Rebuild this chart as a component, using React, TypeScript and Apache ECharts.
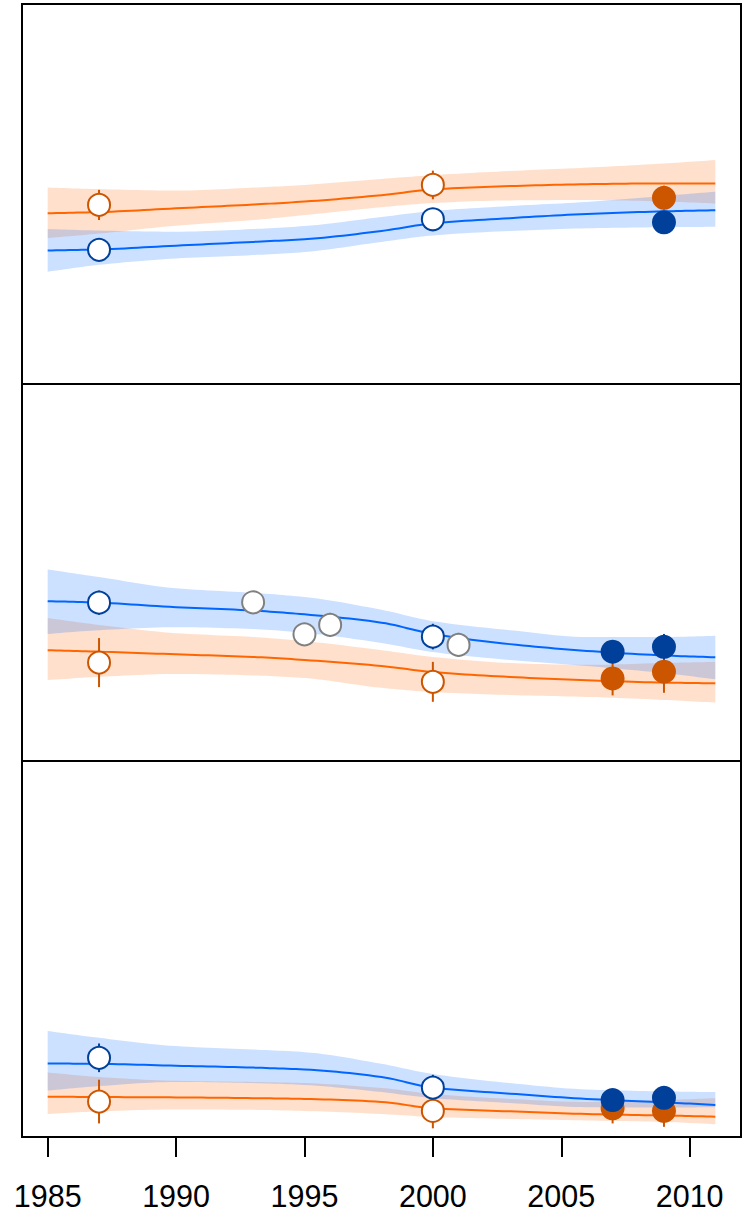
import React, { useEffect, useRef } from "react";
import * as echarts from "echarts";

// Years at which the fitted curves and their bands are read
const curveYears = [1985, 1987, 1990, 1993, 1995, 1998, 2000, 2003, 2006, 2009, 2011];
const tickYears = [1985, 1990, 1995, 2000, 2005, 2010];

// ---------- Panel 1 ----------
const p1OrangeFit = [45.3, 45.6, 46.6, 47.6, 48.4, 50.1, 51.6, 52.5, 53.0, 53.2, 53.2];
const p1OrangeHi = [52.1, 51.7, 51.3, 52.1, 52.8, 54.4, 55.4, 56.5, 57.4, 58.5, 59.4];
const p1OrangeLo = [38.7, 39.9, 42.0, 43.5, 44.8, 46.9, 48.0, 48.7, 48.8, 48.4, 47.9];
const p1BlueFit = [35.4, 35.7, 36.7, 37.7, 38.4, 40.6, 42.6, 44.0, 45.1, 45.8, 46.1];
const p1BlueHi = [41.1, 40.7, 40.4, 41.1, 41.9, 44.3, 45.9, 47.2, 48.3, 49.9, 51.0];
const p1BlueLo = [29.8, 31.6, 33.3, 34.2, 35.0, 37.7, 39.4, 40.6, 41.3, 41.6, 41.7];
// [year, value, error]
const p1OrangeOpen = [[1987, 47.5, 4.0], [2000, 52.8, 3.8]];
const p1OrangeFilled = [[2009, 49.4, 3.2]];
const p1BlueOpen = [[1987, 35.6, 0.8], [2000, 43.7, 0.8]];
const p1BlueFilled = [[2009, 42.9, 1.0]];
const p1GreyOpen: number[][] = [];

// ---------- Panel 2 ----------
const p2OrangeFit = [29.4, 29.0, 28.3, 27.6, 26.8, 25.2, 23.6, 22.3, 21.4, 20.8, 20.6];
const p2OrangeHi = [37.9, 36.1, 33.9, 32.9, 31.8, 29.4, 27.6, 26.0, 25.5, 26.0, 26.3];
const p2OrangeLo = [21.5, 22.3, 23.1, 22.7, 22.0, 19.4, 18.3, 17.5, 17.0, 16.2, 15.5];
const p2BlueFit = [42.4, 42.0, 40.8, 39.9, 38.9, 36.7, 33.7, 31.0, 29.2, 28.0, 27.5];
const p2BlueHi = [50.8, 48.8, 45.8, 44.6, 43.5, 40.1, 37.1, 34.7, 32.9, 32.9, 33.2];
const p2BlueLo = [33.7, 34.7, 35.5, 35.0, 34.0, 31.3, 28.9, 26.8, 25.2, 23.3, 21.7];
const p2OrangeOpen = [[1987, 26.1, 6.5], [2000, 21.0, 5.3]];
const p2OrangeFilled = [[2007, 21.9, 4.5], [2009, 23.7, 5.6]];
const p2BlueOpen = [[1987, 42.0, 3.2], [2000, 33.0, 3.4]];
const p2BlueFilled = [[2007, 29.0, 2.1], [2009, 30.3, 3.4]];
const p2GreyOpen = [[1993, 42.1, 0], [1995, 33.6, 0], [1996, 36.1, 3.2], [2001, 30.8, 3.2]];

// ---------- Panel 3 ----------
const p3OrangeFit = [10.7, 10.6, 10.5, 10.3, 10.1, 9.3, 7.6, 6.8, 6.1, 5.7, 5.4];
const p3OrangeHi = [17.1, 15.9, 14.9, 14.6, 14.3, 13.0, 11.4, 10.1, 9.3, 9.8, 10.3];
const p3OrangeLo = [6.1, 6.8, 7.3, 7.2, 6.9, 6.1, 5.3, 4.8, 4.4, 4.0, 3.4];
const p3BlueFit = [19.5, 19.4, 18.9, 18.4, 17.9, 15.9, 13.1, 11.5, 10.1, 9.2, 8.5];
const p3BlueHi = [28.1, 26.3, 24.1, 23.2, 22.5, 19.4, 16.7, 14.3, 12.6, 12.1, 11.9];
const p3BlueLo = [12.3, 13.5, 14.6, 14.3, 13.8, 11.9, 10.3, 9.0, 7.9, 7.8, 7.9];
const p3OrangeOpen = [[1987, 9.4, 5.8], [2000, 6.9, 4.6]];
const p3OrangeFilled = [[2007, 7.6, 4.0], [2009, 6.9, 4.2]];
const p3BlueOpen = [[1987, 21.0, 3.8], [2000, 13.1, 3.4]];
const p3BlueFilled = [[2007, 9.8, 1.6], [2009, 10.4, 1.9]];
const p3GreyOpen: number[][] = [];

const panels = [
  { top: 4, height: 380, yMax: 100.8, oFit: p1OrangeFit, oHi: p1OrangeHi, oLo: p1OrangeLo, bFit: p1BlueFit, bHi: p1BlueHi, bLo: p1BlueLo, oOpen: p1OrangeOpen, oFilled: p1OrangeFilled, bOpen: p1BlueOpen, bFilled: p1BlueFilled, gOpen: p1GreyOpen },
  { top: 384, height: 377, yMax: 100, oFit: p2OrangeFit, oHi: p2OrangeHi, oLo: p2OrangeLo, bFit: p2BlueFit, bHi: p2BlueHi, bLo: p2BlueLo, oOpen: p2OrangeOpen, oFilled: p2OrangeFilled, bOpen: p2BlueOpen, bFilled: p2BlueFilled, gOpen: p2GreyOpen },
  { top: 761, height: 376, yMax: 99.7, oFit: p3OrangeFit, oHi: p3OrangeHi, oLo: p3OrangeLo, bFit: p3BlueFit, bHi: p3BlueHi, bLo: p3BlueLo, oOpen: p3OrangeOpen, oFilled: p3OrangeFilled, bOpen: p3BlueOpen, bFilled: p3BlueFilled, gOpen: p3GreyOpen },
];

const ORANGE_LINE = "#ff6600";
const ORANGE_BAND = "rgba(255,102,0,0.2)";
const ORANGE_PT = "#cc5500";
const BLUE_LINE = "#0066ff";
const BLUE_BAND = "rgba(0,102,255,0.2)";
const BLUE_PT = "#00409a";
const GREY_PT = "#808080";

// Monotone cubic (Fritsch–Carlson) rendering of pixel points, for a smooth curve
function smoothPixels(p: number[][]): number[][] {
  const n = p.length;
  if (n < 3) return p;
  const d: number[] = [];
  const h: number[] = [];
  for (let k = 0; k < n - 1; k++) {
    h.push(p[k + 1][0] - p[k][0]);
    d.push((p[k + 1][1] - p[k][1]) / h[k]);
  }
  const m: number[] = new Array(n).fill(0);
  m[0] = d[0];
  m[n - 1] = d[n - 2];
  for (let k = 1; k < n - 1; k++) {
    if (d[k - 1] * d[k] <= 0) m[k] = 0;
    else {
      const w1 = 2 * h[k] + h[k - 1];
      const w2 = h[k] + 2 * h[k - 1];
      m[k] = (w1 + w2) / (w1 / d[k - 1] + w2 / d[k]);
    }
  }
  const out: number[][] = [];
  const steps = 12;
  for (let k = 0; k < n - 1; k++) {
    for (let s = 0; s < steps; s++) {
      const t = s / steps;
      const t2 = t * t, t3 = t2 * t;
      const h00 = 2 * t3 - 3 * t2 + 1;
      const h10 = t3 - 2 * t2 + t;
      const h01 = -2 * t3 + 3 * t2;
      const h11 = t3 - t2;
      out.push([
        p[k][0] + t * h[k],
        h00 * p[k][1] + h10 * h[k] * m[k] + h01 * p[k + 1][1] + h11 * h[k] * m[k + 1],
      ]);
    }
  }
  out.push(p[n - 1]);
  return out;
}

function bandSeries(i: number, lo: number[], hi: number[], fill: string) {
  return {
    type: "custom", xAxisIndex: i, yAxisIndex: i, silent: true, clip: false,
    encode: { x: 0, y: 1 },
    data: [[curveYears[0], lo[0]]],
    renderItem: (_params: any, api: any) => {
      const up = smoothPixels(curveYears.map((y, k) => api.coord([y, hi[k]])));
      const dn = smoothPixels(curveYears.map((y, k) => api.coord([y, lo[k]])));
      return {
        type: "polygon",
        shape: { points: up.concat(dn.reverse()) },
        style: { fill, stroke: "none" },
      };
    },
  };
}

function fitSeries(i: number, fit: number[], color: string) {
  return {
    type: "custom", xAxisIndex: i, yAxisIndex: i, silent: true, clip: false,
    encode: { x: 0, y: 1 },
    data: [[curveYears[0], fit[0]]],
    renderItem: (_params: any, api: any) => {
      const pts = smoothPixels(curveYears.map((y, k) => api.coord([y, fit[k]])));
      return {
        type: "polyline",
        shape: { points: pts },
        style: { stroke: color, lineWidth: 2, fill: "none" },
      };
    },
  };
}

function errSeries(i: number, pts: number[][], color: string) {
  return {
    type: "custom", xAxisIndex: i, yAxisIndex: i, silent: true,
    encode: { x: 0, y: [1, 2] },
    data: pts.filter((p) => p[2] > 0).map((p) => [p[0], p[1] - p[2], p[1] + p[2]]),
    renderItem: (_params: any, api: any) => {
      const a = api.coord([api.value(0), api.value(1)]);
      const b = api.coord([api.value(0), api.value(2)]);
      return {
        type: "line",
        shape: { x1: a[0], y1: a[1], x2: b[0], y2: b[1] },
        style: { stroke: color, lineWidth: 2 },
      };
    },
  };
}

function pointSeries(i: number, pts: number[][], color: string, open: boolean) {
  return {
    type: "scatter", xAxisIndex: i, yAxisIndex: i, silent: true,
    symbol: "circle",
    symbolSize: open ? 22 : 24,
    itemStyle: open
      ? { color: "#ffffff", borderColor: color, borderWidth: 2, opacity: 1 }
      : { color, borderWidth: 0, opacity: 1 },
    data: pts.map((p) => [p[0], p[1]]),
  };
}

export default function App() {
  const ref = useRef<HTMLDivElement>(null);
  useEffect(() => {
    if (!ref.current) return;
    const chart = echarts.init(ref.current, undefined, { renderer: "svg" });
    const grids = panels.map((p) => ({
      left: 22, width: 719, top: p.top, height: p.height,
      show: true, borderColor: "#000", borderWidth: 2, backgroundColor: "transparent",
      containLabel: false, outerBoundsMode: "none",
    }));
    const xAxes = panels.map((_p, i) => ({
      type: "value", gridIndex: i, min: 1984, max: 2012,
      axisLine: { show: false },
      splitLine: { show: false },
      axisTick: i === 2
        ? { show: true, inside: false, length: 20, customValues: tickYears, lineStyle: { color: "#000", width: 2 } }
        : { show: false },
      axisLabel: i === 2
        ? {
            show: true, customValues: tickYears, fontSize: 30.5, color: "#000", margin: 43,
            fontFamily: "Liberation Sans, Arial, sans-serif",
            formatter: (v: number) => String(v),
          }
        : { show: false },
    }));
    const yAxes = panels.map((p, i) => ({
      type: "value", gridIndex: i, min: 0, max: p.yMax,
      axisLine: { show: false }, axisTick: { show: false }, axisLabel: { show: false }, splitLine: { show: false },
    }));
    const series: any[] = [];
    panels.forEach((p, i) => {
      series.push(bandSeries(i, p.oLo, p.oHi, ORANGE_BAND));
      series.push(bandSeries(i, p.bLo, p.bHi, BLUE_BAND));
      series.push(fitSeries(i, p.oFit, ORANGE_LINE));
      series.push(fitSeries(i, p.bFit, BLUE_LINE));
      series.push(errSeries(i, p.gOpen, GREY_PT));
      series.push(errSeries(i, p.oOpen.concat(p.oFilled), ORANGE_PT));
      series.push(errSeries(i, p.bOpen.concat(p.bFilled), BLUE_PT));
      series.push(pointSeries(i, p.gOpen, GREY_PT, true));
      series.push(pointSeries(i, p.oOpen, ORANGE_PT, true));
      series.push(pointSeries(i, p.oFilled, ORANGE_PT, false));
      series.push(pointSeries(i, p.bOpen, BLUE_PT, true));
      series.push(pointSeries(i, p.bFilled, BLUE_PT, false));
    });
    chart.setOption({
      animation: false,
      backgroundColor: "#ffffff",
      grid: grids,
      xAxis: xAxes,
      yAxis: yAxes,
      series,
    });
    return () => chart.dispose();
  }, []);
  return (
    <div
      ref={ref}
      style={{ position: "absolute", left: 0, top: 0, width: 755, height: 1216 }}
    />
  );
}
